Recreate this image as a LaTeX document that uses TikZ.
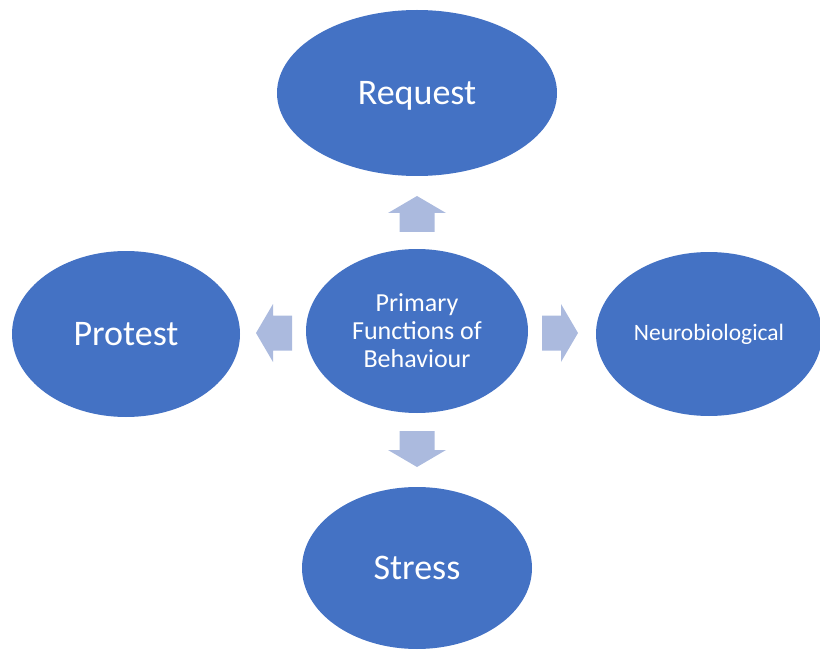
\documentclass[tikz,border=0pt]{standalone}
\usepackage{fontspec}
\setmainfont{Carlito}
\usetikzlibrary{shapes.geometric}

\definecolor{bubbleblue}{RGB}{68,114,196}
\definecolor{arrowfill}{RGB}{171,186,222}

\tikzset{
  bubble/.style={shape=ellipse,fill=bubbleblue,text=white,inner sep=0pt,align=center},
  bigtext/.style={font=\fontsize{36}{43}\selectfont},
  pics/blockarrow/.style={code={
    \fill[arrowfill] (-18,-17.5) -- (1,-17.5) -- (1,-29) -- (18,0) -- (1,29) -- (1,17.5) -- (-18,17.5) -- cycle;
  }}
}

\begin{document}
\begin{tikzpicture}[x=1pt,y=-1pt]
    \useasboundingbox (0,0) rectangle (820,650);
    \node[bubble,bigtext,text depth=0pt,minimum width=280,minimum height=166] (request) at (417,93) {Request};
    \node[bubble,font=\fontsize{26}{28}\selectfont,minimum width=222,minimum height=164] (primary) at (417,331) {Primary\\Functions of\\Behaviour};
    \node[bubble,bigtext,minimum width=228,minimum height=166] (protest) at (126,334) {Protest};
    \node[bubble,font=\fontsize{23.5}{28}\selectfont,minimum width=226,minimum height=164] (neuro) at (709,334) {Neurobiological};
    \node[bubble,bigtext,minimum width=230,minimum height=162] (stress) at (417,568) {Stress};
    % block arrows
    \pic[rotate=90] at (417,214) {blockarrow};
    \pic[rotate=-90] at (417,449) {blockarrow};
    \pic[rotate=180] at (274,333) {blockarrow};
    \pic at (560,333) {blockarrow};
\end{tikzpicture}
\end{document}
